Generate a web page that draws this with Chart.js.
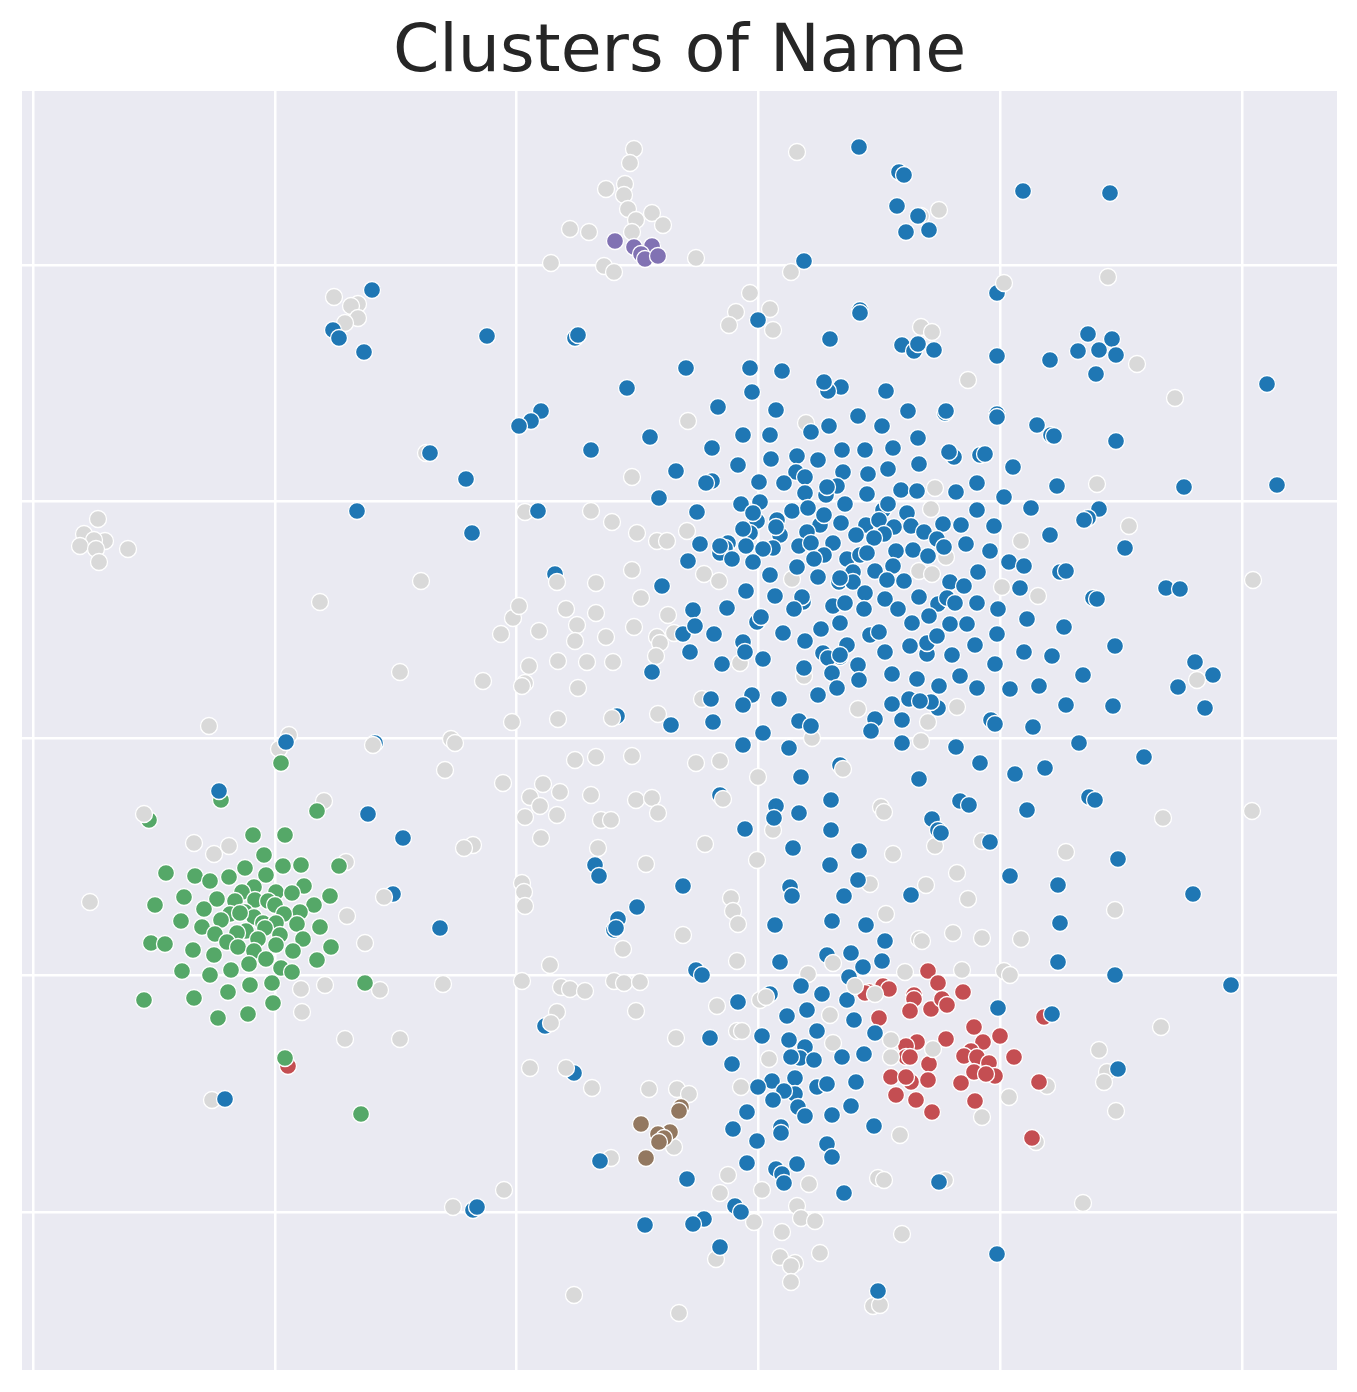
<!DOCTYPE html>
<html>
<head>
<meta charset="utf-8">
<style>html,body{margin:0;padding:0;background:#fff}canvas{display:block}</style>
<script src="https://cdn.jsdelivr.net/npm/chart.js@4/dist/chart.umd.min.js"></script>
</head>
<body>
<canvas id="c" width="1357" height="1392"></canvas>
<script>
const titleText = "Clusters of Name";
const xTicks = [-725,-483,-242,0,242,484];
const yTicks = [473,237,0,-237,-474];
const grayPoints = [[-124,589],[-128,575],[-133,554],[-152,549],[-134,543],[-130,529],[-106,525],[-95,513],[-122,518],[-188,509],[-169,506],[-126,506],[-207,475],[-154,472],[-144,466],[-62,480],[39,586],[181,528],[163,522],[33,466],[350,461],[-424,441],[-400,434],[-407,432],[-400,420],[-413,415],[-8,445],[-22,426],[12,429],[-29,413],[15,408],[163,411],[174,406],[379,374],[210,358],[417,340],[-70,317],[48,315],[-332,285],[339,254],[177,250],[173,229],[-167,227],[-233,226],[-146,216],[-121,205],[-101,197],[-91,197],[-71,207],[371,212],[263,197],[-660,219],[-674,204],[-653,197],[-664,198],[-678,192],[-662,189],[-659,176],[-630,189],[-126,261],[-337,157],[-438,136],[-162,155],[-126,168],[-117,140],[244,151],[280,142],[495,158],[-54,164],[-39,157],[34,159],[161,167],[174,164],[188,181],[-245,120],[-239,132],[-192,129],[-162,125],[-181,113],[-219,107],[-257,104],[-183,97],[-152,101],[-124,111],[-90,123],[-101,101],[-98,95],[-102,82],[-84,105],[-200,77],[-171,76],[-145,76],[-229,72],[-358,66],[-233,55],[-236,52],[-275,57],[-180,50],[46,62],[-18,75],[-246,16],[-200,19],[-100,24],[-549,12],[-469,3],[-479,-11],[-307,-1],[-303,-5],[-313,-32],[-183,-22],[-162,-19],[-126,-18],[-62,-25],[-38,-23],[0,-39],[54,0],[100,29],[199,31],[170,16],[163,-3],[-56,39],[-255,-45],[-215,-46],[-228,-59],[-198,-54],[-167,-57],[-218,-68],[-122,-62],[-106,-60],[-100,-75],[-233,-79],[-201,-77],[-157,-82],[-147,-82],[-434,-63],[123,-69],[126,-74],[15,-92],[405,-80],[494,-73],[-217,-100],[-285,-107],[-294,-110],[-160,-110],[-53,-106],[177,-108],[224,-103],[135,-116],[-1,-122],[-112,-126],[308,-114],[-564,-105],[-544,-116],[-529,-108],[-412,-124],[199,-135],[112,-146],[168,-147],[-236,-145],[-234,-154],[-233,-168],[-27,-160],[-25,-173],[-20,-186],[210,-161],[-668,-164],[-411,-178],[128,-176],[357,-172],[-75,-197],[-135,-211],[161,-201],[164,-203],[195,-195],[224,-200],[263,-201],[-393,-205],[-21,-223],[-208,-227],[50,-236],[147,-234],[204,-232],[246,-233],[252,-237],[-315,-246],[-236,-243],[-197,-249],[-188,-251],[-173,-253],[-144,-243],[-134,-245],[-118,-244],[-433,-247],[-457,-251],[-378,-252],[-41,-268],[2,-262],[-456,-274],[-122,-273],[-201,-274],[72,-277],[-413,-301],[-358,-301],[-82,-300],[-21,-293],[-16,-293],[75,-305],[11,-321],[403,-289],[341,-312],[349,-334],[346,-344],[-228,-330],[-166,-350],[-109,-351],[-81,-351],[-17,-349],[289,-348],[251,-359],[358,-373],[-546,-362],[-69,-356],[224,-379],[142,-397],[-84,-409],[278,-404],[-147,-420],[-30,-437],[120,-440],[126,-442],[187,-442],[51,-446],[4,-452],[-38,-455],[-254,-452],[-305,-469],[325,-465],[39,-468],[43,-480],[57,-483],[-4,-484],[24,-494],[144,-496],[22,-519],[37,-525],[33,-528],[62,-515],[-42,-521],[33,-544],[-184,-557],[-79,-575],[115,-568],[122,-567]];
const redPoints = [[170,-233],[180,-245],[205,-254],[111,-254],[107,-255],[125,-248],[131,-251],[156,-257],[156,-261],[152,-273],[173,-271],[184,-261],[189,-267],[121,-280],[216,-289],[242,-298],[225,-304],[188,-301],[159,-304],[148,-308],[148,-319],[152,-319],[213,-313],[206,-318],[219,-319],[256,-319],[171,-326],[231,-325],[216,-334],[237,-338],[228,-336],[133,-339],[153,-344],[148,-339],[170,-342],[203,-345],[281,-344],[138,-357],[158,-362],[174,-374],[217,-363],[274,-400],[286,-279],[-470,-328]];
const greenPoints = [[-537,-62],[-609,-82],[-441,-73],[-505,-97],[-473,-97],[-494,-117],[-513,-130],[-475,-128],[-457,-127],[-419,-128],[-592,-135],[-563,-138],[-548,-143],[-529,-139],[-492,-137],[-454,-148],[-504,-149],[-516,-154],[-482,-154],[-466,-155],[-428,-158],[-574,-159],[-541,-161],[-603,-167],[-503,-162],[-523,-163],[-490,-163],[-483,-167],[-444,-167],[-554,-171],[-458,-174],[-528,-176],[-513,-174],[-504,-179],[-474,-176],[-537,-182],[-577,-183],[-518,-175],[-495,-185],[-482,-185],[-461,-186],[-556,-189],[-493,-190],[-438,-189],[-512,-193],[-521,-195],[-543,-196],[-478,-197],[-500,-201],[-455,-201],[-607,-205],[-593,-206],[-531,-204],[-520,-209],[-482,-207],[-427,-209],[-565,-212],[-504,-213],[-465,-213],[-544,-217],[-509,-226],[-492,-221],[-441,-222],[-477,-230],[-527,-232],[-466,-234],[-576,-233],[-548,-237],[-486,-245],[-508,-247],[-393,-245],[-530,-254],[-564,-260],[-614,-262],[-485,-265],[-540,-280],[-510,-276],[-473,-320],[-477,-25],[-397,-376]];
const bluePoints = [[-6,346],[-40,331],[18,328],[100,322],[150,327],[128,347],[83,351],[70,347],[66,356],[187,325],[188,327],[-108,301],[-15,303],[12,303],[53,306],[71,312],[124,312],[160,300],[-46,290],[84,288],[107,288],[135,290],[196,281],[191,286],[222,283],[13,279],[39,282],[60,278],[-20,273],[161,274],[-82,267],[130,269],[85,266],[110,264],[38,266],[47,261],[-46,257],[-52,255],[1,256],[26,255],[79,252],[68,243],[69,251],[47,245],[109,244],[143,248],[159,247],[198,246],[219,255],[-99,240],[-17,234],[2,236],[-61,226],[-1,217],[-5,225],[34,227],[50,230],[87,234],[125,228],[130,234],[149,225],[219,228],[62,213],[66,223],[22,203],[19,218],[18,211],[83,215],[108,213],[121,218],[136,211],[153,212],[185,214],[203,213],[-8,205],[-15,209],[49,206],[98,203],[126,204],[116,200],[166,206],[179,199],[186,191],[208,194],[-58,194],[-30,195],[-33,190],[-38,185],[-38,192],[-12,192],[15,190],[5,189],[41,192],[53,195],[75,195],[-26,179],[-70,177],[-5,176],[66,183],[56,179],[89,179],[102,183],[109,185],[138,187],[155,188],[170,182],[220,166],[39,171],[135,172],[95,166],[117,167],[12,163],[60,161],[81,156],[95,156],[82,160],[129,158],[146,157],[192,156],[206,152],[-96,152],[-12,147],[17,142],[45,136],[44,141],[107,145],[127,139],[161,141],[180,134],[189,140],[197,135],[219,135],[-65,128],[-31,130],[36,129],[75,132],[87,135],[106,129],[140,129],[-1,116],[3,121],[82,115],[63,109],[154,115],[171,122],[192,114],[209,114],[-75,104],[-63,112],[-44,104],[25,105],[112,103],[121,106],[47,97],[169,84],[169,95],[179,102],[-15,96],[-13,86],[152,92],[89,93],[217,93],[-68,86],[127,86],[194,83],[5,79],[-36,74],[65,85],[82,81],[70,80],[82,83],[100,73],[46,70],[74,65],[-106,66],[134,64],[101,58],[159,59],[202,62],[181,52],[79,50],[219,50],[60,43],[-6,43],[-15,33],[-47,39],[21,39],[134,34],[151,39],[180,30],[173,36],[-45,16],[-87,13],[41,17],[117,19],[144,18],[101,591],[141,566],[146,563],[139,532],[160,522],[148,506],[171,508],[265,547],[352,545],[46,477],[239,445],[102,428],[102,425],[72,399],[0,418],[-386,448],[-425,408],[-419,400],[-394,386],[-271,402],[-183,400],[-180,403],[-131,350],[-72,370],[-8,370],[24,367],[144,393],[156,387],[160,394],[176,388],[239,382],[292,378],[320,387],[330,404],[341,388],[354,399],[358,383],[338,364],[509,354],[279,313],[293,303],[296,302],[239,324],[239,321],[358,297],[-217,327],[-227,317],[-239,312],[-167,288],[-328,285],[-292,259],[-401,227],[-286,205],[-220,227],[-203,164],[227,284],[255,271],[299,252],[426,251],[519,253],[246,241],[273,230],[341,229],[330,220],[326,218],[292,203],[367,190],[236,212],[232,187],[251,176],[266,172],[302,166],[308,167],[262,150],[335,140],[339,139],[408,150],[422,149],[240,129],[269,119],[306,111],[239,104],[266,86],[294,82],[357,92],[237,74],[325,63],[281,52],[252,49],[437,76],[420,51],[455,63],[447,30],[355,32],[308,33],[275,11],[233,18],[237,14],[321,-5],[386,-19],[287,-30],[257,-36],[331,-59],[337,-62],[269,-72],[222,-25],[198,-9],[161,-41],[144,-5],[113,7],[162,37],[-15,-7],[5,5],[31,-10],[53,12],[43,-39],[82,-27],[73,-62],[18,-68],[16,-80],[41,-75],[-38,-57],[-13,-91],[35,-110],[73,-92],[101,-113],[72,-127],[100,-142],[32,-149],[34,-158],[86,-158],[153,-157],[-75,-148],[-163,-127],[-159,-138],[-140,-181],[-144,-192],[-142,-190],[-121,-169],[-318,-190],[-390,-76],[-355,-100],[-365,-156],[-472,-4],[-383,-5],[-141,22],[-539,-53],[174,-81],[202,-63],[211,-67],[180,-92],[183,-95],[232,-104],[252,-138],[300,-147],[360,-121],[302,-185],[300,-224],[357,-237],[435,-156],[473,-247],[294,-276],[360,-331],[17,-187],[74,-183],[108,-187],[127,-203],[22,-224],[69,-217],[93,-215],[124,-223],[-62,-232],[-56,-237],[105,-229],[91,-239],[43,-248],[64,-256],[89,-262],[12,-256],[-20,-264],[240,-270],[49,-272],[29,-278],[96,-282],[59,-293],[4,-298],[31,-302],[117,-295],[47,-309],[42,-320],[33,-319],[56,-322],[84,-319],[106,-316],[-26,-326],[-48,-300],[14,-343],[37,-340],[0,-349],[59,-349],[69,-346],[98,-344],[37,-356],[26,-353],[15,-362],[40,-369],[47,-378],[93,-368],[74,-377],[-11,-374],[116,-388],[-25,-391],[23,-389],[23,-395],[-1,-403],[69,-406],[74,-419],[39,-426],[-11,-425],[18,-431],[24,-436],[26,-445],[181,-444],[86,-455],[-71,-441],[-158,-423],[-54,-481],[-65,-486],[-113,-487],[-38,-509],[-23,-468],[-17,-474],[-285,-472],[-281,-469],[239,-516],[120,-553],[-533,-361],[-184,-335],[-213,-288]];
const purplePoints = [[-143,497],[-124,491],[-106,492],[-117,484],[-113,479],[-100,482]];
const brownPoints = [[-117,-386],[-77,-369],[-79,-373],[-88,-394],[-100,-396],[-94,-400],[-99,-404],[-112,-420]];
const grayTopPoints = [[-614,-76],[117,-256],[97,-248],[175,-311],[133,-319],[133,-302],[-374,-159],[246,455],[-385,-7],[-146,20],[-192,-330],[-207,-285],[439,58],[8,-259],[75,-225],[85,-31],[-201,156],[-35,-61]];

const toXY = pts => pts.map(p => ({x:p[0], y:p[1]}));
const ds = (label, pts, color) => ({label, data:toXY(pts), backgroundColor:color, borderColor:'#ffffff', borderWidth:1.3, pointRadius:8.5, pointHoverRadius:8.5});

const plotBg = {
  id:'plotBg',
  beforeDraw(chart){
    const a = chart.chartArea, c = chart.ctx;
    c.save();
    c.fillStyle = '#ffffff';
    c.fillRect(0,0,chart.width,chart.height);
    c.fillStyle = '#eaeaf2';
    c.fillRect(a.left,a.top,a.right-a.left,a.bottom-a.top);
    c.restore();
  }
};

new Chart(document.getElementById('c'), {
  type:'scatter',
  data:{datasets:[
    ds('Noise (front)', grayTopPoints, '#d9d9d9'),
    ds('Cluster 6', brownPoints, '#937860'),
    ds('Cluster 5', purplePoints, '#8172b3'),
    ds('Cluster 1', bluePoints, '#1f77b4'),
    ds('Cluster 3', greenPoints, '#55a868'),
    ds('Cluster 4', redPoints, '#c44e52'),
    ds('Noise', grayPoints, '#d9d9d9')
  ]},
  plugins:[plotBg],
  options:{
    responsive:false,
    animation:false,
    layout:{padding:{left:22,right:20,top:0,bottom:22}},
    plugins:{
      legend:{display:false},
      tooltip:{enabled:false},
      title:{display:true,text:titleText,color:'#262626',font:{family:'"DejaVu Sans"',size:66.5,weight:'normal',lineHeight:1},padding:{top:20,bottom:4.5}}
    },
    scales:{
      x:{type:'linear',min:-736,max:579,
        afterBuildTicks(s){s.ticks=xTicks.map(v=>({value:v}));},
        ticks:{display:false},
        grid:{color:'#ffffff',lineWidth:2.5,drawTicks:false},
        border:{display:false}},
      y:{type:'linear',min:-632,max:647,
        afterBuildTicks(s){s.ticks=yTicks.map(v=>({value:v}));},
        ticks:{display:false},
        grid:{color:'#ffffff',lineWidth:2.5,drawTicks:false},
        border:{display:false}}
    }
  }
});
</script>
</body>
</html>
